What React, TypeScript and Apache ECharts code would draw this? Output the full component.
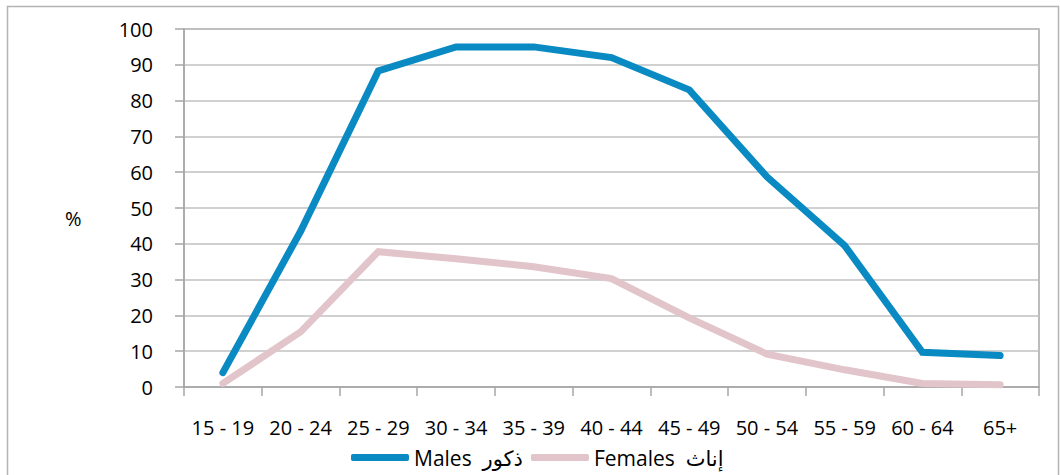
import React, { useEffect, useRef } from "react";
import * as echarts from "echarts";

const categories = ["15 - 19", "20 - 24", "25 - 29", "30 - 34", "35 - 39", "40 - 44", "45 - 49", "50 - 54", "55 - 59", "60 - 64", "65+"];
const males = [4, 43.5, 88.3, 95, 95, 92, 83, 58.7, 39.5, 9.7, 8.8];
const females = [1, 15.4, 37.8, 35.8, 33.6, 30.3, 19.3, 9.2, 4.8, 1, 0.6];
const seriesNames = ["Males  ذكور", "Females  إناث"];
const yTicks = { min: 0, max: 100, interval: 10 };

const FONT = "'Open Sans', 'DejaVu Sans', sans-serif";

export default function App() {
  const ref = useRef<HTMLDivElement>(null);
  useEffect(() => {
    if (!ref.current) return;
    const chart = echarts.init(ref.current, null, { renderer: "svg" });
    chart.setOption({
      animation: false,
      backgroundColor: "#ffffff",
      textStyle: { fontFamily: FONT },
      grid: {
        left: 184,
        right: 22,
        top: 29,
        bottom: 88,
        show: true,
        borderColor: "#a6a6a6",
        borderWidth: 1.5,
      },
      legend: {
        bottom: 2,
        left: 346,
        icon: "roundRect",
        itemWidth: 58,
        itemHeight: 7,
        itemGap: 8,
        textStyle: { fontFamily: FONT, fontSize: 21, color: "#000" },
        data: seriesNames,
      },
      xAxis: {
        type: "category",
        data: categories,
        boundaryGap: true,
        axisLine: { lineStyle: { color: "#a6a6a6", width: 1.5 } },
        axisTick: { show: true, length: 9, lineStyle: { color: "#a6a6a6", width: 1.5 } },
        axisLabel: { color: "#000", fontSize: 20, margin: 30, interval: 0, fontFamily: FONT },
        splitLine: { show: false },
      },
      yAxis: {
        type: "value",
        min: yTicks.min,
        max: yTicks.max,
        interval: yTicks.interval,
        axisLine: { show: true, lineStyle: { color: "#a6a6a6", width: 1.5 } },
        axisTick: { show: true, length: 9, lineStyle: { color: "#a6a6a6", width: 1.5 } },
        axisLabel: { color: "#000", fontSize: 20, margin: 31, fontFamily: FONT },
        splitLine: { show: true, lineStyle: { color: "#c0c0c0", width: 1.5 } },
      },
      graphic: [
        {
          type: "rect",
          silent: true,
          shape: { x: 7.5, y: 6.5, width: 1051, height: 490 },
          style: { fill: "none", stroke: "#b3b3b3", lineWidth: 1.5 },
        },
        {
          type: "text",
          left: 65,
          top: 208,
          style: { text: "%", fontSize: 20, fill: "#000", fontFamily: FONT },
        },
      ],
      series: [
        {
          name: seriesNames[0],
          type: "line",
          data: males,
          symbol: "none",
          color: "#0a8ac2",
          lineStyle: { width: 7, color: "#0a8ac2", cap: "round", join: "miter" },
          z: 3,
        },
        {
          name: seriesNames[1],
          type: "line",
          data: females,
          symbol: "none",
          color: "#e2c5cb",
          lineStyle: { width: 7, color: "#e2c5cb", cap: "round", join: "miter" },
          z: 2,
        },
      ],
    });
    return () => chart.dispose();
  }, []);
  return (
    <div
      ref={ref}
      style={{ position: "absolute", left: 0, top: 0, width: 1061, height: 475 }}
    />
  );
}
